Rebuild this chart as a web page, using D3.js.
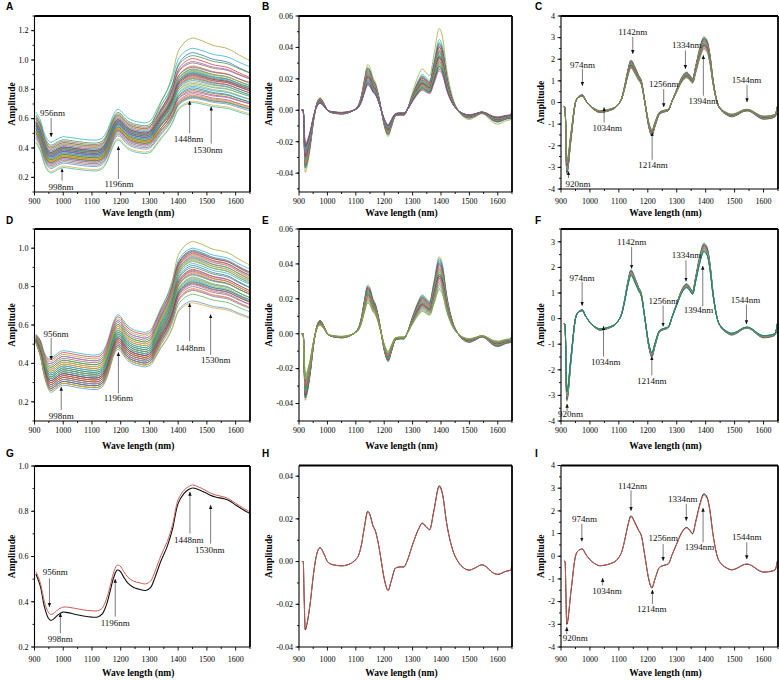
<!DOCTYPE html>
<html>
<head>
<meta charset="utf-8">
<script src="https://cdn.jsdelivr.net/npm/d3@7"></script>
<style>
body { margin: 0; background: #fff; }
svg { display: block; }
text { font-family: "Liberation Serif", "Times New Roman", serif; }
</style>
</head>
<body>
<svg id="fig" width="779" height="680"></svg>
<script>
// mean raw spectrum (black line of panel G) and the second group (red line)
var wlRaw = [905, 920, 935, 948, 956, 965, 980, 998, 1015, 1040, 1070, 1100, 1120, 1135, 1150, 1162, 1175, 1188, 1198, 1210, 1225, 1245, 1265, 1287, 1305, 1320, 1340, 1362, 1380, 1400, 1420, 1435, 1450, 1470, 1490, 1510, 1530, 1560, 1580, 1600, 1625, 1650];
var rawBlack = [0.523, 0.47, 0.375, 0.328, 0.318, 0.322, 0.34, 0.354, 0.352, 0.345, 0.337, 0.332, 0.333, 0.345, 0.385, 0.44, 0.505, 0.54, 0.535, 0.51, 0.482, 0.463, 0.455, 0.45, 0.465, 0.51, 0.58, 0.645, 0.72, 0.835, 0.878, 0.895, 0.903, 0.896, 0.885, 0.872, 0.863, 0.855, 0.845, 0.828, 0.808, 0.79];
var rawRed = [0.533, 0.485, 0.397, 0.354, 0.344, 0.347, 0.363, 0.376, 0.376, 0.371, 0.364, 0.36, 0.36, 0.371, 0.41, 0.463, 0.527, 0.562, 0.558, 0.535, 0.508, 0.491, 0.484, 0.479, 0.493, 0.536, 0.604, 0.666, 0.738, 0.851, 0.892, 0.908, 0.916, 0.908, 0.896, 0.882, 0.872, 0.863, 0.852, 0.835, 0.815, 0.797];

// mean first derivative (panel H)
var wlD1 = [910, 915, 918, 922, 930, 940, 950, 960, 974, 990, 1000, 1020, 1050, 1080, 1100, 1110, 1120, 1130, 1142, 1150, 1160, 1170, 1180, 1190, 1200, 1214, 1225, 1240, 1256, 1270, 1280, 1300, 1320, 1334, 1350, 1360, 1375, 1394, 1405, 1420, 1440, 1460, 1480, 1500, 1520, 1544, 1560, 1580, 1600, 1630, 1647, 1649];
var d1Mean = [0, 0, -0.016, -0.032, -0.028, -0.019, -0.007, 0.002, 0.0065, 0.003, 0.0, -0.0015, -0.002, -0.001, 0.001, 0.003, 0.008, 0.016, 0.0235, 0.022, 0.017, 0.014, 0.008, 0.0, -0.008, -0.0135, -0.009, -0.003, -0.0025, -0.0025, 0.0, 0.008, 0.015, 0.018, 0.016, 0.015, 0.024, 0.0355, 0.032, 0.018, 0.006, 0.0, -0.003, -0.004, -0.003, -0.0015, -0.0025, -0.005, -0.006, -0.0045, -0.004, 0];

// mean second derivative (panel I)
var wlD2 = [910, 914, 920, 935, 950, 960, 974, 985, 1000, 1020, 1034, 1050, 1070, 1090, 1100, 1110, 1120, 1130, 1142, 1155, 1168, 1178, 1190, 1203, 1214, 1225, 1240, 1256, 1270, 1285, 1300, 1315, 1334, 1345, 1355, 1365, 1380, 1394, 1405, 1415, 1425, 1440, 1455, 1470, 1490, 1510, 1530, 1544, 1560, 1580, 1600, 1620, 1640, 1648];
var d2Mean = [-0.2, -0.25, -3.0, -1.5, 0.0, 0.25, 0.32, 0.1, -0.15, -0.35, -0.42, -0.4, -0.33, -0.2, -0.05, 0.2, 0.7, 1.3, 1.78, 1.5, 1.15, 0.9, 0.0, -1.0, -1.4, -1.0, -0.5, -0.4, -0.35, 0.1, 0.55, 1.0, 1.27, 1.15, 1.0, 1.5, 2.3, 2.75, 2.6, 2.0, 1.0, 0.0, -0.35, -0.5, -0.6, -0.52, -0.38, -0.35, -0.42, -0.6, -0.7, -0.68, -0.6, -0.2];

// individual samples: raw level at 956 nm and at 1448 nm
var lowA = [0.40, 0.44, 0.37, 0.42, 0.36, 0.39, 0.41, 0.35, 0.38, 0.40, 0.34, 0.37, 0.39, 0.33, 0.36, 0.38, 0.35, 0.32, 0.37, 0.34, 0.36, 0.31, 0.33, 0.35, 0.30, 0.34, 0.32, 0.36, 0.31, 0.33, 0.29, 0.32, 0.30, 0.34, 0.28, 0.31, 0.29, 0.27, 0.30, 0.26, 0.24, 0.23];
var highA = [1.15, 1.08, 1.05, 1.03, 1.01, 0.99, 0.98, 0.96, 0.955, 0.95, 0.94, 0.935, 0.93, 0.925, 0.92, 0.915, 0.91, 0.905, 0.90, 0.895, 0.89, 0.885, 0.88, 0.875, 0.87, 0.86, 0.85, 0.84, 0.83, 0.82, 0.81, 0.80, 0.79, 0.78, 0.77, 0.76, 0.755, 0.75, 0.745, 0.74, 0.72, 0.71];
var lowD = [0.41, 0.43, 0.40, 0.38, 0.42, 0.37, 0.39, 0.36, 0.40, 0.35, 0.38, 0.34, 0.37, 0.33, 0.36, 0.35, 0.32, 0.34, 0.31, 0.33, 0.30, 0.32, 0.29, 0.31, 0.33, 0.28, 0.30, 0.32, 0.29, 0.27, 0.31, 0.28, 0.30, 0.27, 0.29, 0.26, 0.28, 0.27, 0.26, 0.25, 0.26];
var highD = [1.035, 1.0, 0.99, 0.985, 0.98, 0.975, 0.97, 0.965, 0.96, 0.955, 0.95, 0.945, 0.94, 0.935, 0.93, 0.92, 0.91, 0.90, 0.89, 0.885, 0.88, 0.875, 0.87, 0.865, 0.86, 0.85, 0.845, 0.84, 0.835, 0.83, 0.825, 0.82, 0.815, 0.81, 0.80, 0.79, 0.785, 0.78, 0.76, 0.725, 0.715];

// first derivative samples: peak at 1142 nm and at 1394 nm
var pk1142B = [0.029, 0.027, 0.026, 0.027, 0.025, 0.026, 0.024, 0.025, 0.024, 0.023, 0.024, 0.022, 0.023, 0.022, 0.021, 0.023, 0.021, 0.020, 0.022, 0.020, 0.021, 0.019, 0.020, 0.019, 0.018, 0.019, 0.018, 0.018, 0.017, 0.018, 0.017, 0.016, 0.017, 0.016];
var pk1394B = [0.052, 0.045, 0.043, 0.042, 0.041, 0.040, 0.040, 0.039, 0.038, 0.038, 0.037, 0.037, 0.036, 0.036, 0.035, 0.035, 0.034, 0.034, 0.034, 0.033, 0.033, 0.032, 0.032, 0.031, 0.031, 0.030, 0.030, 0.029, 0.029, 0.028, 0.028, 0.027, 0.026, 0.025];
var pk1142E = [0.028, 0.027, 0.027, 0.026, 0.026, 0.025, 0.026, 0.025, 0.024, 0.025, 0.024, 0.024, 0.023, 0.024, 0.023, 0.023, 0.022, 0.023, 0.022, 0.022, 0.021, 0.022, 0.021, 0.020, 0.020, 0.019, 0.019, 0.018, 0.0175];
var pk1394E = [0.044, 0.043, 0.042, 0.041, 0.040, 0.040, 0.039, 0.038, 0.038, 0.037, 0.037, 0.036, 0.036, 0.035, 0.035, 0.034, 0.034, 0.033, 0.033, 0.032, 0.032, 0.031, 0.031, 0.030, 0.029, 0.028, 0.027, 0.026, 0.025];

// second derivative samples: peak at 1394 nm
var pk1394C = [3.05, 3.0, 2.98, 2.95, 2.92, 2.9, 2.88, 2.86, 2.84, 2.82, 2.8, 2.78, 2.76, 2.74, 2.72, 2.7, 2.68, 2.66, 2.64, 2.62, 2.6, 2.57, 2.54, 2.5, 2.45];
var pk1394F = [2.96, 2.93, 2.9, 2.88, 2.86, 2.84, 2.82, 2.8, 2.78, 2.76, 2.74, 2.72, 2.7, 2.68, 2.66, 2.64, 2.62, 2.6];

// panels H and I: the two group means (black, red)
var pairScaleH = [1, 0.985];
var pairScaleI = [1, 0.98];

var xTicks = [900, 1000, 1100, 1200, 1300, 1400, 1500, 1600];
var yTicksA = [0.2, 0.4, 0.6, 0.8, 1.0, 1.2];
var yTicksDG = [0.2, 0.4, 0.6, 0.8, 1.0];
var yTicksBE = [-0.04, -0.02, 0.00, 0.02, 0.04, 0.06];
var yTicksH = [-0.04, -0.02, 0.00, 0.02, 0.04];
var yTicksCI = [-4, -3, -2, -1, 0, 1, 2, 3, 4];
var yTicksF = [-4, -3, -2, -1, 0, 1, 2, 3];

// annotations: label, text nm, text value, arrow nm, arrow from, arrow to
var annA = [["956nm", 963, 0.639, 958, 0.604, 0.477], ["998nm", 992, 0.135, 996, 0.177, 0.258], ["1196nm", 1194, 0.158, 1192, 0.188, 0.41], ["1448nm", 1436, 0.459, 1440, 0.5, 0.72], ["1530nm", 1503, 0.385, 1515, 0.43, 0.68]];
var annD = [["956nm", 975, 0.553, 958, 0.532, 0.419], ["998nm", 993, 0.127, 993, 0.157, 0.276], ["1196nm", 1192, 0.218, 1192, 0.244, 0.457], ["1448nm", 1442, 0.483, 1440, 0.515, 0.712], ["1530nm", 1531, 0.419, 1513, 0.445, 0.654]];
var annG = [["956nm", 972, 0.532, 952, 0.503, 0.378], ["998nm", 990, 0.234, 990, 0.26, 0.349], ["1196nm", 1181, 0.307, 1181, 0.334, 0.5], ["1448nm", 1437, 0.675, 1441, 0.701, 0.885], ["1530nm", 1510, 0.628, 1513, 0.657, 0.826]];
var annC = [["920nm", 959, -3.74, 926, -3.5, -3.19], ["974nm", 974, 1.76, 974, 1.56, 0.78], ["1034nm", 1060, -1.17, 1049, -0.93, -0.23], ["1142nm", 1148, 3.27, 1148, 3.03, 2.26], ["1256nm", 1255, 0.86, 1255, 0.62, -0.2], ["1214nm", 1218, -2.88, 1215, -2.65, -1.4], ["1334nm", 1335, 2.65, 1330, 2.41, 1.56], ["1394nm", 1392, 0.08, 1392, 0.31, 2.18], ["1544nm", 1541, 1.06, 1543, 0.82, 0.03]];
var annF = [["920nm", 933, -3.73, 921, -3.63, -3.34], ["974nm", 973, 1.59, 973, 1.44, 0.51], ["1034nm", 1055, -1.67, 1047, -1.48, -0.3], ["1142nm", 1144, 3.0, 1144, 2.8, 1.96], ["1256nm", 1253, 0.7, 1253, 0.51, -0.3], ["1214nm", 1214, -2.43, 1214, -2.22, -1.48], ["1334nm", 1334, 2.48, 1332, 2.28, 1.46], ["1394nm", 1375, 0.35, 1390, 0.48, 2.05], ["1544nm", 1538, 0.74, 1541, 0.55, -0.21]];
var annI = [["920nm", 949, -3.6, 920, -3.43, -3.13], ["974nm", 981, 1.65, 972, 1.43, 0.66], ["1034nm", 1059, -1.51, 1044, -1.29, -0.97], ["1142nm", 1147, 3.12, 1142, 2.9, 2.01], ["1256nm", 1253, 0.81, 1253, 0.54, -0.19], ["1214nm", 1214, -2.32, 1216, -2.1, -1.49], ["1334nm", 1321, 2.53, 1333, 2.31, 1.57], ["1394nm", 1379, 0.43, 1391, 0.62, 2.12], ["1544nm", 1542, 0.87, 1542, 0.62, -0.12]];

var palette = ["#9c9a1e", "#17a9c4", "#1f63b4", "#2e8b3a", "#d62728", "#8a5bb8", "#8c564b", "#f07f15", "#d66fb8", "#6f6f6f", "#4fa83d", "#3f88c5", "#e1a32a", "#2bb39a"];
var pairColors = ["#111111", "#cc5c55"];

var cols = [{x0: 34.5, x1: 250, titleX: 12, letterX: 6}, {x0: 299, x1: 512, titleX: 269, letterX: 262}, {x0: 561, x1: 778, titleX: 541, letterX: 535}];
var rows = [{tickY: 201, titleY: 213, letterY: 10}, {tickY: 430, titleY: 446, letterY: 224}, {tickY: 659, titleY: 673, letterY: 457}];

var panels = [
    {letter: "A", col: 0, row: 0, y0: 16, y1: 192, dom: [0.1, 1.3], yt: yTicksA, minor: 0.1, fmt: ".1f", kind: "raw", lo: lowA, hi: highA, ann: annA},
    {letter: "B", col: 1, row: 0, y0: 16, y1: 192, dom: [-0.052, 0.06], yt: yTicksBE, minor: 0.01, fmt: ".2f", kind: "d1", p1: pk1142B, p2: pk1394B},
    {letter: "C", col: 2, row: 0, y0: 16, y1: 189, dom: [-4, 4], yt: yTicksCI, minor: 0.5, fmt: "d", kind: "d2", p: pk1394C, ann: annC},
    {letter: "D", col: 0, row: 1, y0: 229, y1: 421, dom: [0.1, 1.1], yt: yTicksDG, minor: 0.1, fmt: ".1f", kind: "raw", lo: lowD, hi: highD, ann: annD, converge: true},
    {letter: "E", col: 1, row: 1, y0: 229, y1: 421, dom: [-0.05, 0.06], yt: yTicksBE, minor: 0.01, fmt: ".2f", kind: "d1", p1: pk1142E, p2: pk1394E},
    {letter: "F", col: 2, row: 1, y0: 229, y1: 421, dom: [-4, 3.5], yt: yTicksF, minor: 0.5, fmt: "d", kind: "d2", p: pk1394F, ann: annF},
    {letter: "G", col: 0, row: 2, y0: 466, y1: 647, dom: [0.2, 1.0], yt: yTicksDG, minor: 0.1, fmt: ".1f", kind: "rawPair", ann: annG},
    {letter: "H", col: 1, row: 2, y0: 465.5, y1: 647, dom: [-0.04, 0.045], yt: yTicksH, minor: 0.01, fmt: ".2f", kind: "d1Pair"},
    {letter: "I", col: 2, row: 2, y0: 465.5, y1: 647, dom: [-4, 4], yt: yTicksCI, minor: 0.5, fmt: "d", kind: "d2Pair", ann: annI}
];

// one sample of raw spectrum: mean shape shifted to its 956 nm level,
// moving to its 1448 nm level across the water band
function rawSeries(lo, hi, converge) {
    var gLo = rawBlack[wlRaw.indexOf(956)], gHi = rawBlack[wlRaw.indexOf(1450)], gMid = rawBlack[wlRaw.indexOf(1287)];
    return wlRaw.map(function (w, i) {
        var g = rawBlack[i];
        var t = w > 1287 ? Math.max(0, (g - gMid) / (gHi - gMid)) : 0;
        var off = (lo - gLo) + t * ((hi - gHi) - (lo - gLo));
        // in panel D the samples meet at the short-wave end
        if (converge && w < 956) off *= 0.25 + 0.75 * (w - 905) / 51;
        return [w, g + off];
    });
}
function d1Series(p1, p2) {
    var k1 = p1 / d1Mean[wlD1.indexOf(1142)], k2 = p2 / d1Mean[wlD1.indexOf(1394)];
    return wlD1.map(function (w, i) {
        var t = Math.min(1, Math.max(0, (w - 1250) / 50));
        return [w, d1Mean[i] * (k1 + t * (k2 - k1))];
    });
}
function d2Series(p) {
    var k = p / d2Mean[wlD2.indexOf(1394)];
    return wlD2.map(function (w, i) { return [w, d2Mean[i] * k]; });
}

function fmtTick(f) {
    var fn = d3.format(f);
    return function (d) { return fn(d).replace("\u2212", "-"); };
}

var svg = d3.select("#fig");
var defs = svg.append("defs");
defs.append("marker")
    .attr("id", "ah")
    .attr("viewBox", "0 0 6 6")
    .attr("refX", 5.5).attr("refY", 3)
    .attr("markerWidth", 4).attr("markerHeight", 4.5)
    .attr("markerUnits", "userSpaceOnUse")
    .attr("orient", "auto")
    .append("path").attr("d", "M0,0.4L6,3L0,5.6z").attr("fill", "#111");

panels.forEach(function (p, pi) {
    var c = cols[p.col], r = rows[p.row];
    var x = d3.scaleLinear().domain([900, 1650]).range([c.x0, c.x1]);
    var y = d3.scaleLinear().domain(p.dom).range([p.y1, p.y0]);
    var g = svg.append("g");

    defs.append("clipPath").attr("id", "clip" + pi)
        .append("rect").attr("x", c.x0).attr("y", p.y0).attr("width", c.x1 - c.x0).attr("height", p.y1 - p.y0);

    var series = [];
    if (p.kind == "raw") {
        p.lo.forEach(function (lo, i) { series.push({pts: rawSeries(lo, p.hi[i], p.converge), color: palette[i % palette.length]}); });
    } else if (p.kind == "d1") {
        p.p1.forEach(function (a, i) { series.push({pts: d1Series(a, p.p2[i]), color: palette[i % palette.length]}); });
    } else if (p.kind == "d2") {
        p.p.forEach(function (a, i) { series.push({pts: d2Series(a), color: palette[i % palette.length]}); });
    } else if (p.kind == "rawPair") {
        series.push({pts: wlRaw.map(function (w, i) { return [w, rawBlack[i]]; }), color: pairColors[0], w: 1.1});
        series.push({pts: wlRaw.map(function (w, i) { return [w, rawRed[i]]; }), color: pairColors[1], w: 1});
    } else if (p.kind == "d1Pair") {
        pairScaleH.forEach(function (k, i) {
            series.push({pts: wlD1.map(function (w, j) { return [w, d1Mean[j] * k]; }), color: pairColors[i], w: 1});
        });
    } else if (p.kind == "d2Pair") {
        pairScaleI.forEach(function (k, i) {
            series.push({pts: wlD2.map(function (w, j) { return [w, d2Mean[j] * k]; }), color: pairColors[i], w: 1});
        });
    }

    var line = d3.line()
        .x(function (d) { return x(d[0]); })
        .y(function (d) { return y(d[1]); })
        .curve(p.kind.indexOf("raw") == 0 ? d3.curveCatmullRom.alpha(0.5) : d3.curveMonotoneX);

    g.append("g").attr("clip-path", "url(#clip" + pi + ")")
        .selectAll("path").data(series).enter()
        .append("path")
        .attr("d", function (d) { return line(d.pts); })
        .attr("fill", "none")
        .attr("stroke", function (d) { return d.color; })
        .attr("stroke-width", function (d) { return d.w || 0.7; });

    // annotations
    if (p.ann) {
        var ag = g.append("g");
        ag.selectAll("line").data(p.ann).enter().append("line")
            .attr("x1", function (d) { return x(d[3]); })
            .attr("x2", function (d) { return x(d[3]); })
            .attr("y1", function (d) { return y(d[4]); })
            .attr("y2", function (d) { return y(d[5]); })
            .attr("stroke", "#444").attr("stroke-width", 0.7)
            .attr("marker-end", "url(#ah)");
        ag.selectAll("text").data(p.ann).enter().append("text")
            .attr("x", function (d) { return x(d[1]); })
            .attr("y", function (d) { return y(d[2]); })
            .attr("dy", "0.35em")
            .attr("text-anchor", "middle")
            .attr("font-size", 9)
            .attr("fill", "#111")
            .text(function (d) { return d[0]; });
    }

    // frame: thin left/bottom axes, heavier top/right
    g.append("line").attr("x1", c.x0).attr("x2", c.x1).attr("y1", p.y0).attr("y2", p.y0).attr("stroke", "#000").attr("stroke-width", 1.8);
    g.append("line").attr("x1", c.x1).attr("x2", c.x1).attr("y1", p.y0).attr("y2", p.y1).attr("stroke", "#000").attr("stroke-width", 1.8);
    g.append("line").attr("x1", c.x0).attr("x2", c.x0).attr("y1", p.y0).attr("y2", p.y1).attr("stroke", "#000").attr("stroke-width", 1.1);
    g.append("line").attr("x1", c.x0).attr("x2", c.x1).attr("y1", p.y1).attr("y2", p.y1).attr("stroke", "#000").attr("stroke-width", 1.1);

    // x ticks
    var xMinor = d3.range(900, 1651, 50);
    g.selectAll(".xmin").data(xMinor).enter().append("line")
        .attr("x1", x).attr("x2", x)
        .attr("y1", p.y1).attr("y2", function (d) { return p.y1 + (d % 100 == 0 ? 3.5 : 2); })
        .attr("stroke", "#000").attr("stroke-width", 0.9);
    g.selectAll(".xlab").data(xTicks).enter().append("text")
        .attr("x", x).attr("y", r.tickY).attr("dy", "0.35em")
        .attr("text-anchor", "middle").attr("font-size", 8)
        .text(function (d) { return d; });

    // y ticks
    var yMinor = d3.range(Math.ceil(p.dom[0] / p.minor - 1e-6), Math.floor(p.dom[1] / p.minor + 1e-6) + 1).map(function (k) { return k * p.minor; });
    g.selectAll(".ymin").data(yMinor).enter().append("line")
        .attr("x1", c.x0).attr("x2", c.x0 - 2)
        .attr("y1", y).attr("y2", y)
        .attr("stroke", "#000").attr("stroke-width", 0.9);
    g.selectAll(".ymaj").data(p.yt).enter().append("line")
        .attr("x1", c.x0).attr("x2", c.x0 - 3.5)
        .attr("y1", y).attr("y2", y)
        .attr("stroke", "#000").attr("stroke-width", 0.9);
    g.selectAll(".ylab").data(p.yt).enter().append("text")
        .attr("x", c.x0 - 6).attr("y", y).attr("dy", "0.35em")
        .attr("text-anchor", "end").attr("font-size", 8)
        .text(fmtTick(p.fmt));

    // axis titles
    g.append("text")
        .attr("x", (c.x0 + c.x1) / 2 - 4).attr("y", r.titleY).attr("dy", "0.35em")
        .attr("text-anchor", "middle").attr("font-size", 9.5).attr("font-weight", "bold")
        .text("Wave length (nm)");
    g.append("text")
        .attr("transform", "translate(" + c.titleX + "," + ((p.y0 + p.y1) / 2) + ") rotate(-90)")
        .attr("dy", "0.35em")
        .attr("text-anchor", "middle").attr("font-size", 9.5).attr("font-weight", "bold")
        .text("Amplitude");

    // panel letter
    g.append("text")
        .attr("x", c.letterX).attr("y", r.letterY)
        .style("font-family", "'Liberation Sans', Arial, sans-serif")
        .attr("font-size", 10).attr("font-weight", "bold")
        .text(p.letter);
});
</script>
</body>
</html>
